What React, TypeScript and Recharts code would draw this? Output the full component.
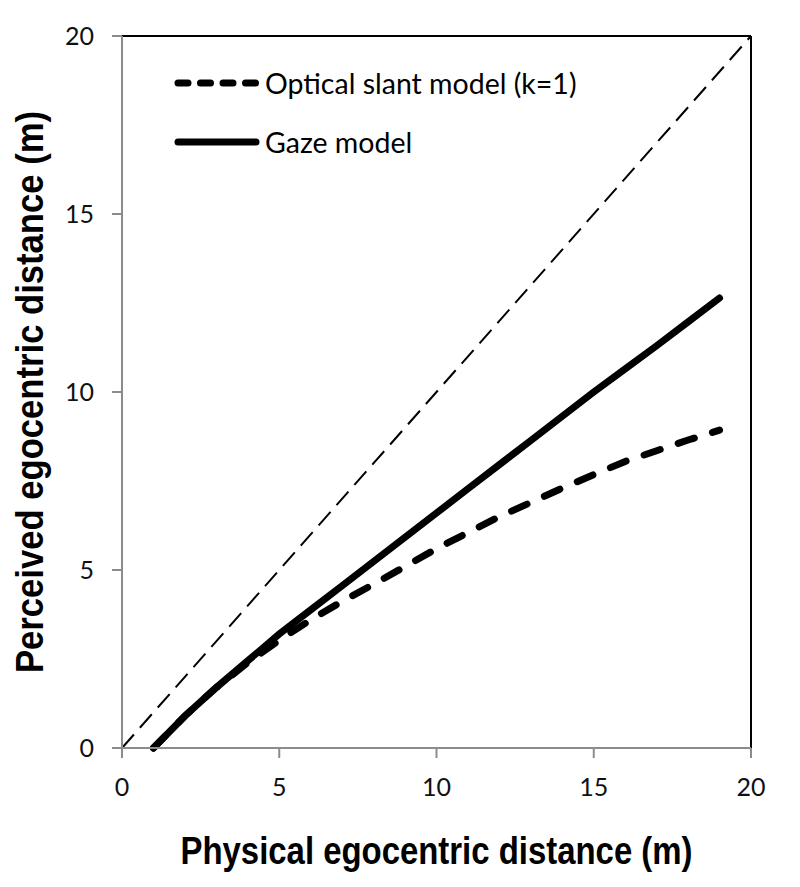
import React from "react";
import { LineChart, Line, XAxis, YAxis, ReferenceLine } from "recharts";

/* ── Data ─────────────────────────────────────────────────────── */
const physical = [1, 2, 3, 4, 5, 6, 7, 8, 9, 10, 11, 12, 13, 14, 15, 16, 17, 18, 19];
const opticalSlant = [0, 0.9, 1.7, 2.4, 3.03, 3.6, 4.12, 4.6, 5.1, 5.6, 6.05, 6.5, 6.9, 7.3, 7.68, 8.05, 8.35, 8.65, 8.93];
const gaze = [0, 0.9, 1.7, 2.45, 3.2, 3.88, 4.56, 5.24, 5.92, 6.6, 7.28, 7.96, 8.64, 9.32, 10.0, 10.65, 11.3, 11.97, 12.64];
const axisTicks = [0, 5, 10, 15, 20];
const identity = [
  { x: 0, y: 0 },
  { x: 20, y: 20 },
];
const legendItems = [
  { label: "Optical slant model (k=1)", dash: "10 12.5" },
  { label: "Gaze model", dash: undefined },
];

const rows = physical.map((x, i) => ({ x, optical: opticalSlant[i], gaze: gaze[i] }));

const FONT = "Lato, 'Open Sans', sans-serif";
const TITLE_FONT = "'Liberation Sans', Arial, sans-serif";

/* ── Axis titles ─────────────────────────────────────────────── */
function XTitle(props: any) {
  const vb = props.viewBox || {};
  const cx = vb.x + vb.width / 2;
  return (
    <text
      x={cx}
      y={vb.y + 116}
      textAnchor="middle"
      fontFamily={TITLE_FONT}
      fontWeight="bold"
      fontSize={38}
      textLength={512}
      lengthAdjust="spacingAndGlyphs"
      fill="#000"
    >
      Physical egocentric distance (m)
    </text>
  );
}

function YTitle(props: any) {
  const vb = props.viewBox || {};
  const cy = vb.y + vb.height / 2;
  const cx = 43;
  return (
    <text
      x={cx}
      y={cy}
      transform={`rotate(-90 ${cx} ${cy})`}
      textAnchor="middle"
      fontFamily={TITLE_FONT}
      fontWeight="bold"
      fontSize={38}
      textLength={562}
      lengthAdjust="spacingAndGlyphs"
      fill="#000"
    >
      Perceived egocentric distance (m)
    </text>
  );
}

/* ── Legend (drawn over the plot, top left) ──────────────────── */
function LegendBox() {
  return (
    <svg
      width={460}
      height={140}
      style={{ position: "absolute", left: 170, top: 50, pointerEvents: "none" }}
    >
      {legendItems.map((it, i) => (
        <g key={it.label} transform={`translate(0, ${33 + i * 59})`}>
          <line
            x1={8}
            x2={86}
            y1={0}
            y2={0}
            stroke="#000"
            strokeWidth={7}
            strokeLinecap="round"
            strokeDasharray={it.dash}
          />
          <text x={95} y={0} dominantBaseline="central" fontFamily={FONT} fontSize={28.5} fill="#000">
            {it.label}
          </text>
        </g>
      ))}
    </svg>
  );
}

export default function App() {
  return (
    <div style={{ position: "absolute", left: 0, top: 0, background: "#fff" }}>
      <LineChart
        width={800}
        height={887}
        data={rows}
        margin={{ top: 36, right: 49, bottom: 39, left: 22 }}
      >
        <XAxis
          dataKey="x"
          type="number"
          domain={[0, 20]}
          ticks={axisTicks}
          height={100}
          stroke="#8c8c8c"
          strokeWidth={2}
          tickSize={10}
          tickMargin={20}
          tick={{ fill: "#111", fontSize: 25, fontFamily: FONT }}
          label={<XTitle />}
        />
        <YAxis
          type="number"
          domain={[0, 20]}
          ticks={axisTicks}
          width={100}
          stroke="#8c8c8c"
          strokeWidth={2}
          tickSize={10}
          tickMargin={18}
          tick={{ fill: "#111", fontSize: 25, fontFamily: FONT }}
          label={<YTitle />}
        />
        <ReferenceLine y={20} stroke="#000" strokeWidth={2} />
        <ReferenceLine x={20} stroke="#000" strokeWidth={2} />
        <ReferenceLine
          segment={identity}
          stroke="#000"
          strokeWidth={2}
          strokeDasharray="18 9"
        />
        <Line
          dataKey="optical"
          stroke="#000"
          strokeWidth={7}
          strokeDasharray="17 19"
          strokeLinecap="round"
          dot={false}
          isAnimationActive={false}
        />
        <Line
          dataKey="gaze"
          stroke="#000"
          strokeWidth={7}
          strokeLinecap="round"
          dot={false}
          isAnimationActive={false}
        />
      </LineChart>
      <LegendBox />
    </div>
  );
}
